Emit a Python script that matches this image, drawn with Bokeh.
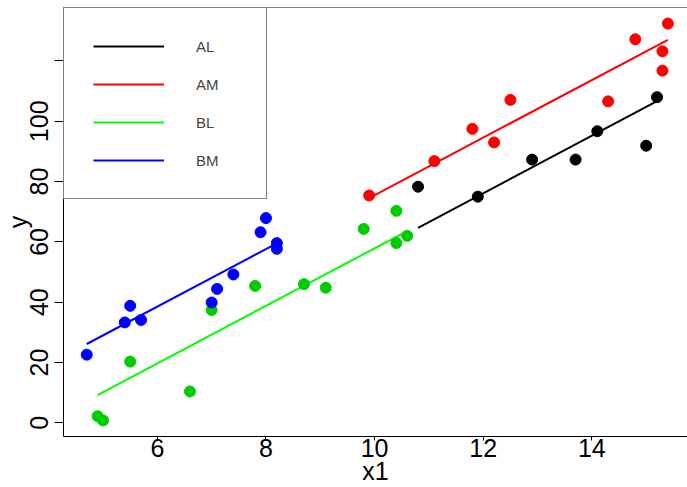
import numpy as np
from bokeh.plotting import figure
from bokeh.models import Range1d, FixedTicker, Legend, LegendItem, Span
from bokeh.embed import file_html
from bokeh.resources import INLINE

# ---- data ----
groups = ["AL", "AM", "BL", "BM"]
al_x1 = [10.8, 11.9, 12.9, 13.7, 14.1, 15.0, 15.2]
al_y = [78.3, 75.0, 87.3, 87.3, 96.7, 91.9, 108.0]
am_x1 = [9.9, 11.1, 11.8, 12.2, 12.5, 14.3, 14.8, 15.3, 15.3, 15.4]
am_y = [75.4, 86.8, 97.5, 93.0, 107.1, 106.6, 127.2, 123.2, 116.8, 132.4]
bl_x1 = [4.9, 5.0, 5.5, 6.6, 7.0, 7.8, 8.7, 9.1, 9.8, 10.4, 10.4, 10.6]
bl_y = [2.2, 0.8, 20.3, 10.4, 37.4, 45.4, 46.0, 44.8, 64.3, 70.3, 59.6, 62.0]
bm_x1 = [4.7, 5.4, 5.5, 5.7, 7.0, 7.1, 7.4, 7.9, 8.0, 8.2, 8.2]
bm_y = [22.6, 33.3, 38.8, 34.1, 39.9, 44.4, 49.2, 63.2, 67.9, 59.6, 57.7]
x_ticks = [6, 8, 10, 12, 14]
y_ticks = [0, 20, 40, 60, 80, 100, 120]
x_label = "x1"
y_label = "y"

point_colors = ["#000000", "#FF0000", "#00CD00", "#0000FF"]
line_colors = ["#000000", "#FF0000", "#00FF00", "#0000FF"]
xs = [al_x1, am_x1, bl_x1, bm_x1]
ys = [al_y, am_y, bl_y, bm_y]

# common-slope (parallel lines) model: y ~ x1 + group
sxy = 0.0
sxx = 0.0
for gx, gy in zip(xs, ys):
    gx = np.asarray(gx, float); gy = np.asarray(gy, float)
    sxy += np.sum((gx - gx.mean()) * (gy - gy.mean()))
    sxx += np.sum((gx - gx.mean()) ** 2)
slope = sxy / sxx

FONT = "Liberation Sans"
X0, X1 = 4.272, 15.761
Y0, Y1 = -4.54, 137.73

p = figure(width=687, height=487, output_backend="svg", toolbar_location=None,
           x_range=Range1d(X0, X1), y_range=Range1d(Y0, Y1),
           min_border_left=62, min_border_right=0, min_border_top=7, min_border_bottom=51,
           x_axis_label=x_label, y_axis_label=y_label)
p.xgrid.visible = False
p.ygrid.visible = False
p.outline_line_color = None
p.background_fill_color = "white"

line_renderers = []
for gx, gy, pc, lc in zip(xs, ys, point_colors, line_colors):
    gx = np.asarray(gx, float); gy = np.asarray(gy, float)
    b0 = gy.mean() - slope * gx.mean()
    lx = [gx.min(), gx.max()]
    ly = [b0 + slope * v for v in lx]
    r = p.line(lx, ly, line_color=lc, line_width=2)
    line_renderers.append(r)
    p.scatter(gx, gy, size=11, fill_color=pc, line_color=pc)

for ax in (p.xaxis[0], p.yaxis[0]):
    ax.major_label_text_font = FONT
    ax.major_label_text_font_size = "25px"
    ax.major_label_text_color = "black"
    ax.axis_label_text_font = FONT
    ax.axis_label_text_font_size = "25px"
    ax.axis_label_text_font_style = "normal"
    ax.axis_label_text_color = "black"
    ax.major_tick_in = 0
    ax.minor_tick_line_color = None
    ax.axis_line_color = "black"
    ax.major_tick_line_color = "black"

xa = p.xaxis[0]
xa.ticker = FixedTicker(ticks=x_ticks)
xa.major_tick_out = 4
xa.major_label_standoff = -2
xa.axis_label_standoff = -3

ya = p.yaxis[0]
ya.ticker = FixedTicker(ticks=y_ticks)
ya.major_label_overrides = {120: ""}
ya.major_label_orientation = "vertical"
ya.major_tick_out = 9
ya.major_label_standoff = 6
ya.axis_label_standoff = -4

p.add_layout(Span(location=Y1, dimension="width", line_color="black", line_width=1))

legend = Legend(items=[LegendItem(label=g, renderers=[r]) for g, r in zip(groups, line_renderers)],
                location="top_left", margin=0, padding=29, spacing=20,
                glyph_width=71, glyph_height=18, label_height=18, label_width=41,
                label_standoff=32, label_text_font=FONT, label_text_font_size="15px",
                border_line_color="black", border_line_width=1,
                background_fill_color="white", background_fill_alpha=1.0)
p.add_layout(legend)

open("out.html", "w").write(file_html(p, INLINE))
